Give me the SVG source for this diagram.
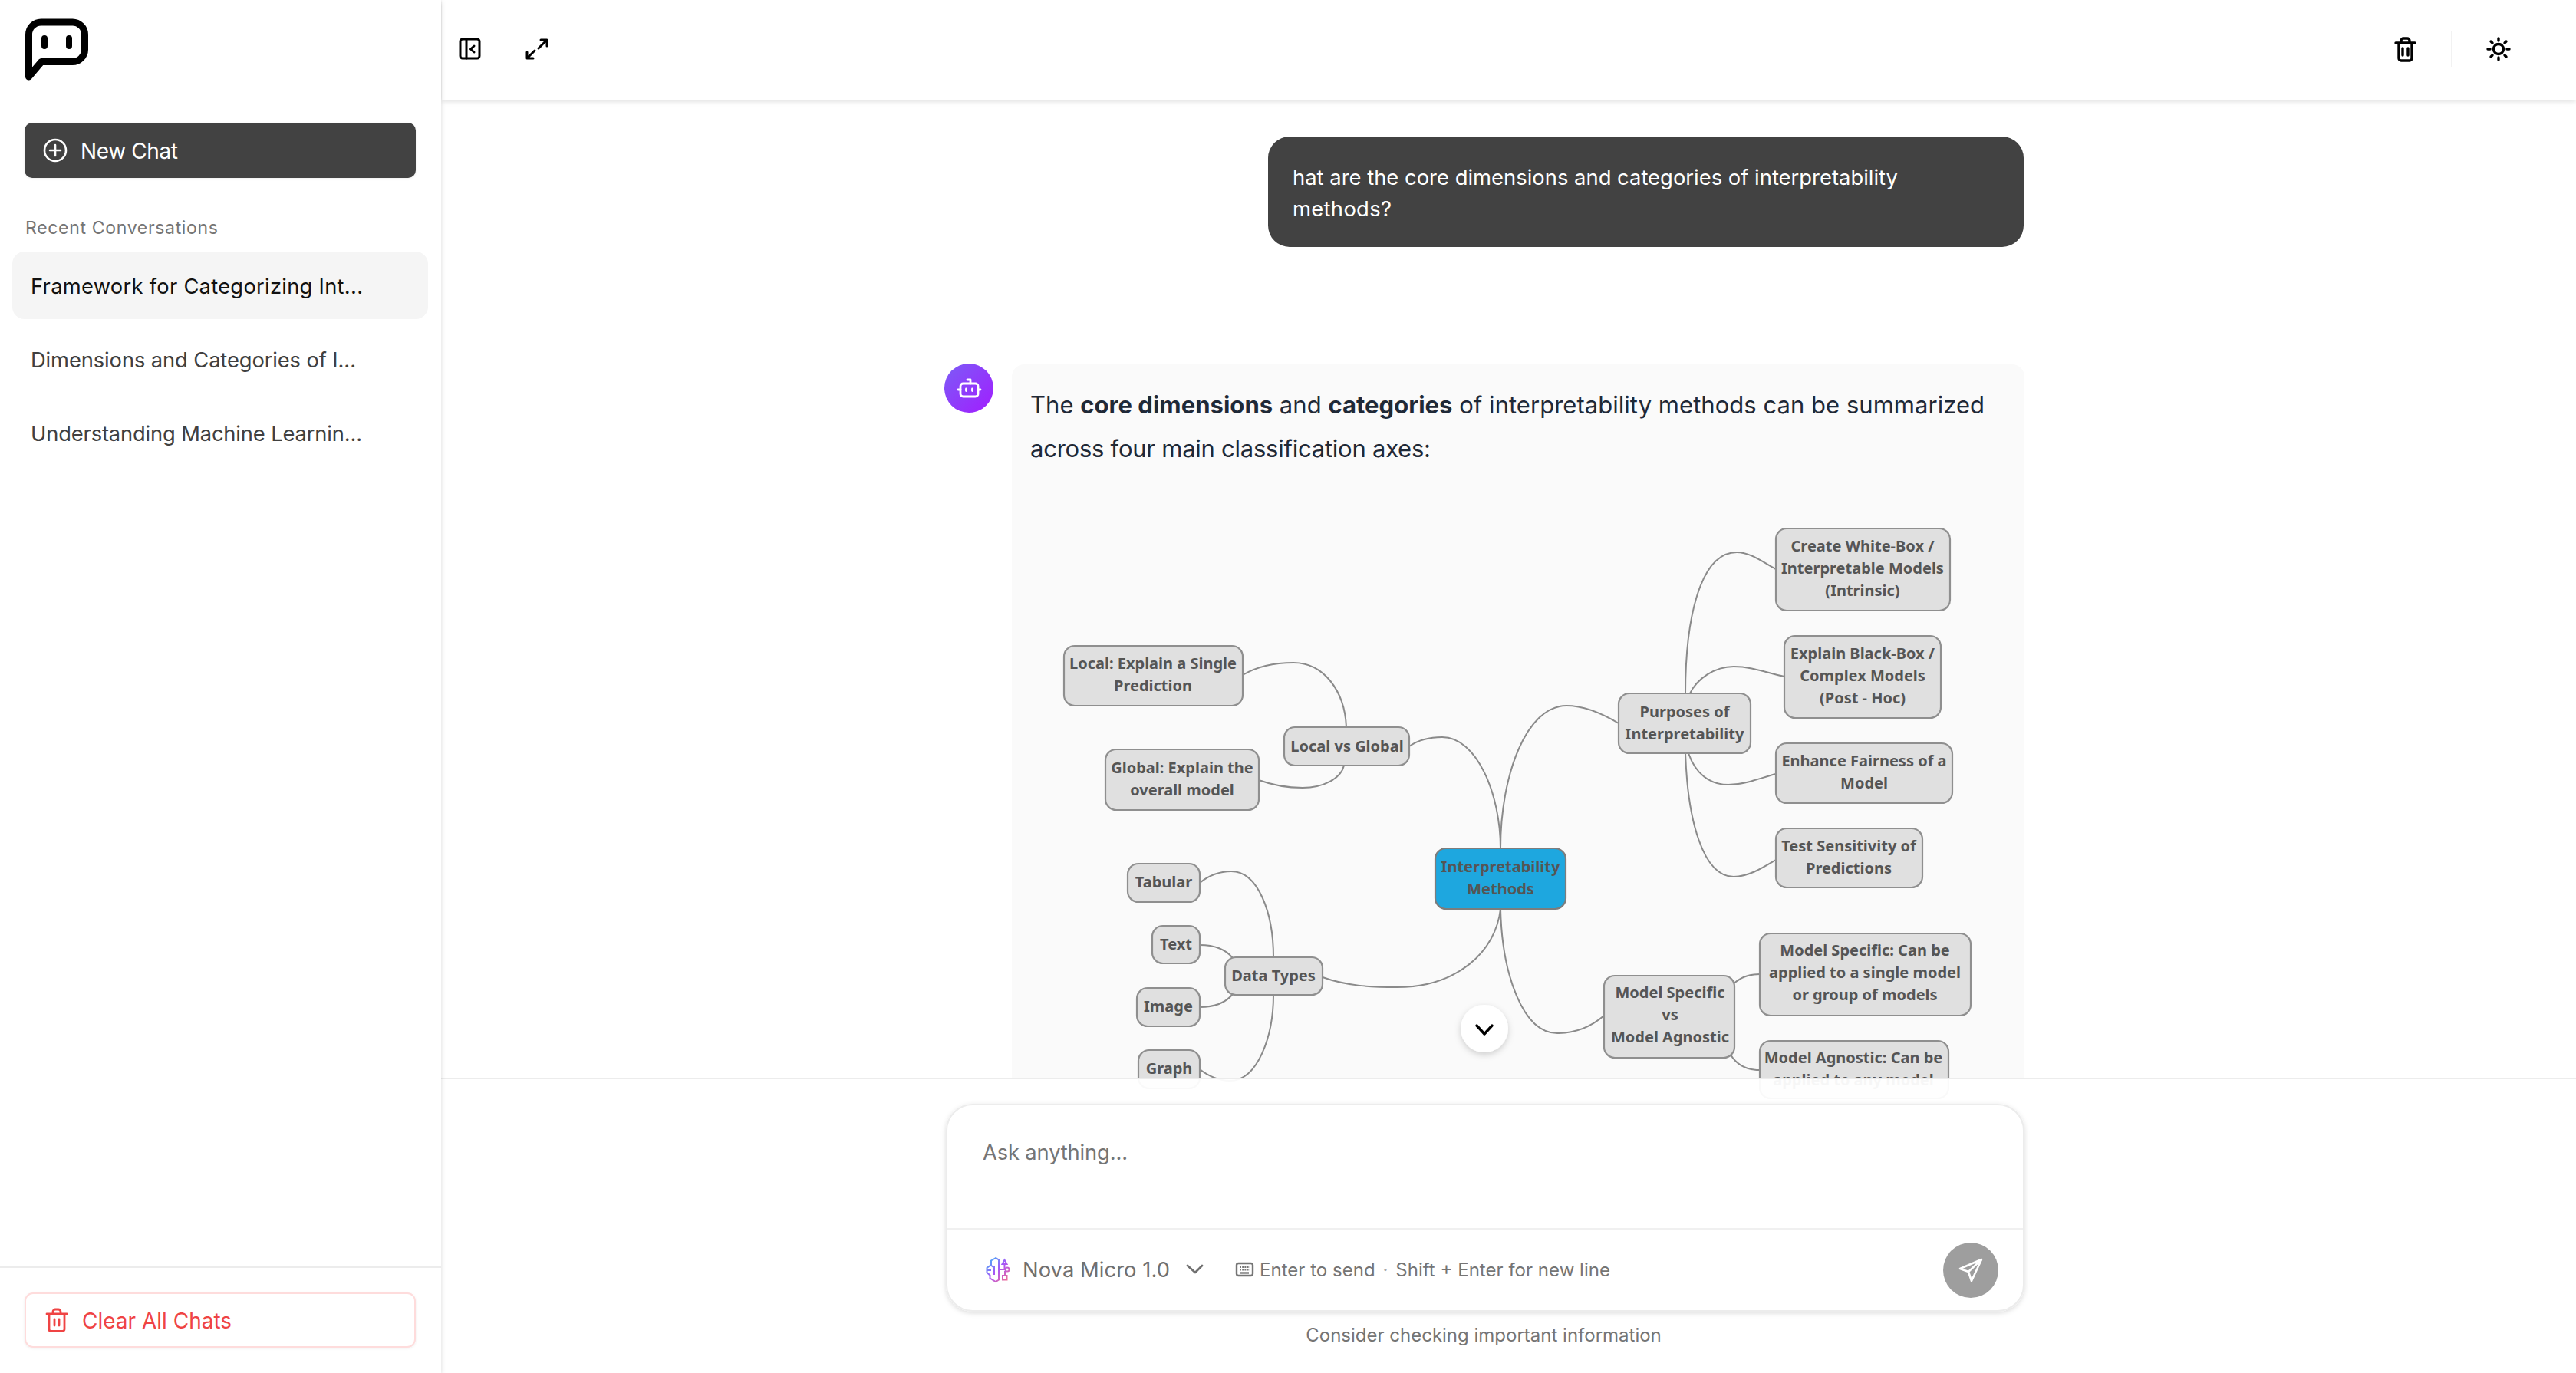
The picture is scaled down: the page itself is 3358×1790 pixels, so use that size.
<svg xmlns="http://www.w3.org/2000/svg" width="3358" height="1790" viewBox="0 0 3358 1790">
<defs>
<filter id="sh" x="-20%" y="-20%" width="140%" height="150%"><feDropShadow dx="0" dy="3" stdDeviation="4" flood-color="#000" flood-opacity=".18"/></filter>
<filter id="sh2" x="-5%" y="-5%" width="110%" height="115%"><feDropShadow dx="0" dy="2" stdDeviation="3" flood-color="#000" flood-opacity=".14"/></filter>
<filter id="sh3" x="-5%" y="-10%" width="110%" height="130%"><feDropShadow dx="0" dy="1" stdDeviation="1.500" flood-color="#000" flood-opacity=".07"/></filter>
<linearGradient id="nova" gradientUnits="userSpaceOnUse" x1="1286" y1="1640" x2="1316" y2="1671"><stop offset="0" stop-color="#38bdf8"/><stop offset=".5" stop-color="#a855f7"/><stop offset="1" stop-color="#fb7185"/></linearGradient>
<linearGradient id="purple" x1="0" y1="0" x2="1" y2="1"><stop offset="0" stop-color="#7c5cf6"/><stop offset="1" stop-color="#a21cff"/></linearGradient>
<clipPath id="mapclip"><rect x="1319" y="475" width="1320" height="965"/></clipPath>
</defs>
<style>
text{font-family:Inter,"Liberation Sans",sans-serif}
.n rect{fill:#e0e0e0;stroke:#8f8f8f;stroke-width:2.2}
.n text,.root text{font-family:"Noto Sans","DejaVu Sans",sans-serif;font-weight:700;font-size:20px;fill:#555;text-anchor:middle}
.root rect{fill:#1ea7df;stroke:#7d7d7d;stroke-width:2.2}
#connectors path{fill:none;stroke:#8a8a8a;stroke-width:2}
.ic{fill:none;stroke:#000;stroke-width:3.400;stroke-linecap:round;stroke-linejoin:round}
.hist{font-size:27.300px;fill:#404040}
.para{font-size:31px;fill:#1f2937}
</style>
<rect width="3358" height="1790" fill="#fff"/>

<g id="chat">
<g id="user-message">
<rect x="1653" y="178" width="985" height="144" rx="28" fill="#424242"/>
<text x="1685" y="241" font-size="27.400" fill="#fff" textLength="789">hat are the core dimensions and categories of interpretability</text>
<text x="1685" y="282" font-size="27.400" fill="#fff" textLength="129">methods?</text>
</g>
<g id="avatar">
<circle cx="1263" cy="506" r="32" fill="url(#purple)"/>
<g fill="none" stroke="#fff" stroke-width="2.800" stroke-linecap="round" stroke-linejoin="round"><rect x="1252" y="500" width="23" height="17" rx="3.500"/><path d="M1265 500v-5h-4M1249 508h3M1275 508h3M1259.500 507v2.500M1267.500 507v2.500"/></g>
</g>
<rect x="1319" y="475" width="1320" height="965" rx="16" fill="#fafafa"/>
<text class="para" x="1343" y="539" textLength="1244">The <tspan font-weight="700">core dimensions</tspan> and <tspan font-weight="700">categories</tspan> of interpretability methods can be summarized</text>
<text class="para" x="1343" y="596" textLength="522">across four main classification axes:</text>
<g clip-path="url(#mapclip)">
<g id="connectors">
<path d="M1956 1106C1956 1035 1925 961 1880 961C1865 961 1850 964 1837 973"/>
<path d="M1956 1106C1956 1010 1990 920 2042 920C2065 920 2090 931 2110 943"/>
<path d="M1956 1185C1950 1240 1900 1287 1821 1287C1785 1287 1755 1285 1724 1274"/>
<path d="M1956 1185C1958 1270 1985 1347 2030 1347C2050 1347 2070 1342 2091 1324"/>
<path d="M2197 904C2197 810 2215 720 2264 720C2282 720 2298 733 2315 742"/>
<path d="M2203 904C2212 885 2235 869 2260 869C2285 869 2305 878 2326 882"/>
<path d="M2201 982C2210 1008 2228 1023 2253 1023C2275 1023 2295 1014 2315 1009"/>
<path d="M2197 982C2200 1070 2220 1143 2260 1143C2280 1143 2300 1130 2315 1121"/>
<path d="M2260 1282C2268 1276 2276 1270 2294 1270"/>
<path d="M2256 1375C2265 1390 2278 1395 2294 1395"/>
<path d="M1755 948C1753 900 1725 864 1686 864C1665 864 1640 868 1620 880"/>
<path d="M1752 998C1748 1015 1725 1027 1698 1027C1680 1027 1660 1024 1641 1017"/>
<path d="M1660 1248C1660 1190 1640 1136 1605 1136C1590 1136 1575 1142 1564 1151"/>
<path d="M1607 1249C1598 1238 1585 1232 1564 1232"/>
<path d="M1607 1296C1598 1307 1585 1313 1564 1313"/>
<path d="M1660 1297C1660 1350 1640 1409 1603 1409C1590 1409 1575 1403 1564 1394"/>
</g>
<g id="root" class="root"><rect x="1871" y="1106" width="170" height="79" rx="14"/><text x="1956" y="1137">Interpretability</text><text x="1956" y="1166">Methods</text></g>
<g id="n-purposes" class="n"><rect x="2110" y="904" width="172" height="78" rx="14"/><text x="2196" y="935">Purposes of</text><text x="2196" y="964">Interpretability</text></g>
<g id="n-white" class="n"><rect x="2315" y="689" width="227" height="107" rx="14"/><text x="2428" y="719">Create White-Box /</text><text x="2428" y="748">Interpretable Models</text><text x="2428" y="777">(Intrinsic)</text></g>
<g id="n-black" class="n"><rect x="2326" y="829" width="204" height="107" rx="14"/><text x="2428" y="859">Explain Black-Box /</text><text x="2428" y="888">Complex Models</text><text x="2428" y="917">(Post - Hoc)</text></g>
<g id="n-fair" class="n"><rect x="2315" y="969" width="230" height="78" rx="14"/><text x="2430" y="999">Enhance Fairness of a</text><text x="2430" y="1028">Model</text></g>
<g id="n-test" class="n"><rect x="2315" y="1080" width="191" height="77" rx="14"/><text x="2410" y="1110">Test Sensitivity of</text><text x="2410" y="1139">Predictions</text></g>
<g id="n-msma" class="n"><rect x="2091" y="1272" width="170" height="107" rx="14"/><text x="2177" y="1301">Model Specific</text><text x="2177" y="1330">vs</text><text x="2177" y="1359">Model Agnostic</text></g>
<g id="n-ms" class="n"><rect x="2294" y="1217" width="275" height="107" rx="14"/><text x="2431" y="1246">Model Specific: Can be</text><text x="2431" y="1275">applied to a single model</text><text x="2431" y="1304">or group of models</text></g>
<g id="n-ma" class="n"><rect x="2294" y="1357" width="246" height="75" rx="14"/><text x="2416" y="1386">Model Agnostic: Can be</text><text x="2416" y="1415">applied to any model</text></g>
<g id="n-lg" class="n"><rect x="1674" y="948" width="163" height="50" rx="14"/><text x="1756" y="980">Local vs Global</text></g>
<g id="n-local" class="n"><rect x="1387" y="842" width="233" height="78" rx="14"/><text x="1503" y="872">Local: Explain a Single</text><text x="1503" y="901">Prediction</text></g>
<g id="n-global" class="n"><rect x="1441" y="977" width="200" height="79" rx="14"/><text x="1541" y="1008">Global: Explain the</text><text x="1541" y="1037">overall model</text></g>
<g id="n-data" class="n"><rect x="1597" y="1248" width="127" height="49" rx="14"/><text x="1660" y="1279">Data Types</text></g>
<g id="n-tab" class="n"><rect x="1470" y="1126" width="94" height="50" rx="14"/><text x="1517" y="1157">Tabular</text></g>
<g id="n-text" class="n"><rect x="1502" y="1207" width="62" height="49" rx="14"/><text x="1533" y="1238">Text</text></g>
<g id="n-image" class="n"><rect x="1482" y="1288" width="82" height="50" rx="14"/><text x="1523" y="1319">Image</text></g>
<g id="n-graph" class="n"><rect x="1484" y="1369" width="80" height="50" rx="14"/><text x="1524" y="1400">Graph</text></g>
</g>
</g>

<g id="composer">
<rect x="575" y="1406" width="2783" height="384" fill="#fff" opacity=".95"/>
<rect x="575" y="1405" width="2783" height="2" fill="#ececec"/>
<rect x="1234" y="1440" width="1404" height="269" rx="34" fill="#fff" stroke="#ececec" stroke-width="2" filter="url(#sh2)"/>
<rect x="1235" y="1601" width="1402" height="3" fill="#f0f0f0"/>
<text x="1281" y="1512" font-size="27.300" fill="#757575" textLength="189">Ask anything...</text>
<g id="nova-icon" fill="none" stroke="url(#nova)" stroke-width="2"><path d="M1298 1640l-6 3.500v5.500l-5.500 4v6l4 3.500v4l7.500 4.500 4-2.500v-26z"/><path d="M1291 1649l4 3M1287 1656l5 0M1296 1650v12M1302 1655h9"/><circle cx="1313" cy="1655" r="2.600"/><path d="M1309.500 1648l-3 0 3-5.500 3 5.500zM1309.500 1648v6M1310 1657v5"/><rect x="1307" y="1663" width="5.500" height="5.500"/></g>
<text x="1333" y="1665" font-size="27.300" fill="#707070" textLength="192">Nova Micro 1.0</text>
<path d="M1548 1650l10 9 9-9" fill="none" stroke="#707070" stroke-width="2.800" stroke-linecap="round" stroke-linejoin="round"/>
<g id="kbd" fill="none" stroke="#757575" stroke-width="2.400"><rect x="1612" y="1647" width="21" height="16" rx="2.500"/><path d="M1616 1652h13M1616 1655.500h13" stroke-dasharray="2 1.200" stroke-width="1.800"/><path d="M1617 1659.500h11"/></g>
<text x="1642" y="1664" font-size="24" fill="#757575" textLength="457">Enter to send<tspan dx="3" fill="#a8a8a8"> · </tspan><tspan dx="3">Shift + Enter for new line</tspan></text>
<g id="send"><circle cx="2569" cy="1656" r="36" fill="#9e9e9e"/><path d="M2583 1642l-28 12 11 4 4 12z" fill="none" stroke="#fff" stroke-width="2.600" stroke-linejoin="round"/><path d="M2583 1642l-17 16" fill="none" stroke="#fff" stroke-width="2.600"/></g>
<text x="1934" y="1749" font-size="24" fill="#757575" text-anchor="middle">Consider checking important information</text>
</g>

<g id="scroll-down"><circle cx="1935" cy="1341" r="31" fill="#fff" filter="url(#sh)"/><path d="M1925 1337l10 11 10-11" fill="none" stroke="#000" stroke-width="3.400" stroke-linecap="round" stroke-linejoin="round"/></g>

<g id="header">
<rect x="576" y="0" width="2782" height="130" fill="#fff" filter="url(#sh2)"/>
<g class="ic" style="stroke-width:3"><rect x="600" y="51" width="25" height="25" rx="3"/><path d="M608 51v25M618 60l-4.500 4 4.500 4"/></g>
<g class="ic" style="stroke-width:3"><path d="M702 63l11-11M705 52h8v8M697 66l-10 10M687 68v8h8"/></g>
<g class="ic"><path d="M3123 56h25M3127 56v20a3 3 0 0 0 3 3h11a3 3 0 0 0 3-3v-20M3130 56v-3a3 3 0 0 1 3-3h5a3 3 0 0 1 3 3v3M3132 63v9M3139 63v9"/></g>
<rect x="3195" y="40" width="2" height="48" fill="#f2f2f2"/>
<g class="ic"><circle cx="3257" cy="64" r="6.500"/><path d="M3257 50v3M3257 75v3M3243 64h3M3268 64h3M3247 54l2 2M3265 72l2 2M3247 74l2-2M3265 56l2-2"/></g>
</g>

<g id="sidebar">
<rect x="0" y="0" width="575" height="1790" fill="#fff" filter="url(#sh2)"/>
<g id="logo" fill="none" stroke="#000" stroke-width="9" stroke-linecap="round" stroke-linejoin="round"><path d="M37.500 100V45a16 16 0 0 1 16-16h41a16 16 0 0 1 16 16v19.500a16 16 0 0 1-16 16H54z"/><path d="M58 50v10M90 50v10" stroke-width="8"/></g>
<g id="new-chat"><rect x="32" y="160" width="510" height="72" rx="10" fill="#424242" filter="url(#sh3)"/>
<circle cx="72" cy="196" r="14" fill="none" stroke="#fff" stroke-width="2.600"/><path d="M72 189v14M65 196h14" stroke="#fff" stroke-width="2.600" stroke-linecap="round"/>
<text x="105" y="207" font-size="28" fill="#fff" textLength="127">New Chat</text></g>
<text x="33" y="305" font-size="23" fill="#757575" textLength="251">Recent Conversations</text>
<g id="conv-1"><rect x="16" y="328" width="542" height="88" rx="16" fill="#f5f5f5"/><text x="40" y="383" font-size="27.300" fill="#111" textLength="433">Framework for Categorizing Int...</text></g>
<g id="conv-2"><text class="hist" x="40" y="479" textLength="424">Dimensions and Categories of I...</text></g>
<g id="conv-3"><text class="hist" x="40" y="575" textLength="432">Understanding Machine Learnin...</text></g>
<rect x="0" y="1651" width="575" height="2" fill="#ececec"/>
<g id="clear"><rect x="33" y="1686" width="508" height="70" rx="10" fill="#fff" stroke="#fedcdc" stroke-width="2" filter="url(#sh3)"/>
<g fill="none" stroke="#ef4444" stroke-width="2.800" stroke-linecap="round" stroke-linejoin="round"><path d="M61 1713h26M64 1713v20a2.500 2.500 0 0 0 2.500 2.500h15a2.500 2.500 0 0 0 2.500-2.500v-20M69 1713v-3a3 3 0 0 1 3-3h4a3 3 0 0 1 3 3v3M71 1720v8M77 1720v8"/></g>
<text x="107" y="1732" font-size="28" fill="#ef4444">Clear All Chats</text></g>
</g>
</svg>
